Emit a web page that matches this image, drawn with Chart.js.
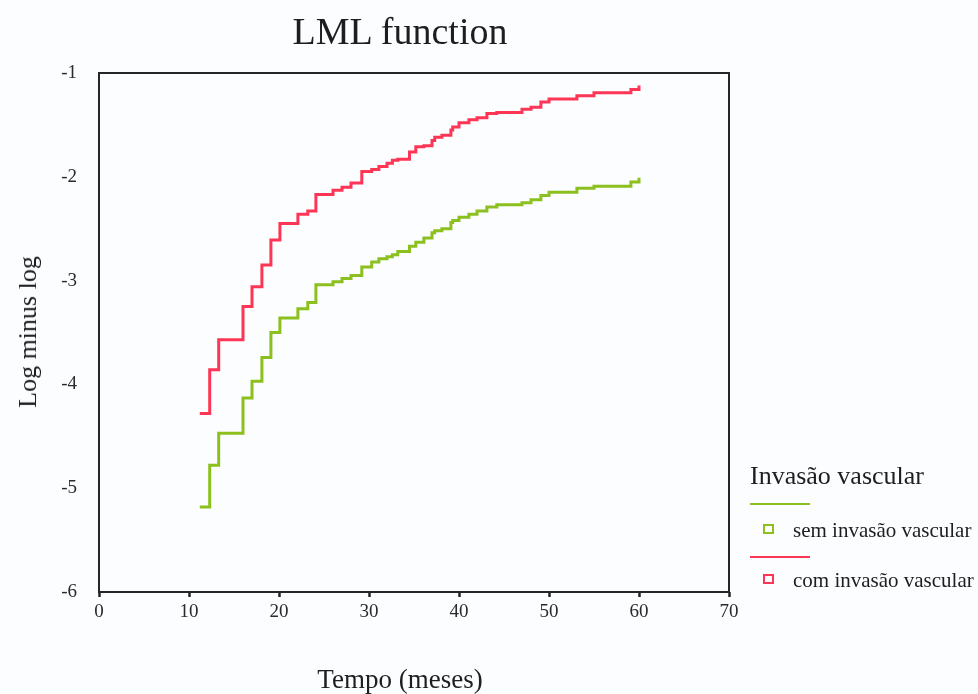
<!DOCTYPE html>
<html>
<head>
<meta charset="utf-8">
<script src="https://cdn.jsdelivr.net/npm/chart.js@4/dist/chart.umd.min.js"></script>
<style>
  html, body { margin: 0; padding: 0; background: #fbfdff; }
  #wrap { position: relative; width: 978px; height: 694px; font-family: 'Liberation Serif', 'Times New Roman', serif; color: #1e1e1e; }
  #grafico { position: absolute; left: 0; top: 0; }
  .txt { position: absolute; white-space: nowrap; line-height: 1; }
  #titulo { left: 400px; top: 31px; font-size: 38px; transform: translate(-50%, -50%); }
  #tituloX { left: 400px; top: 679px; font-size: 27px; transform: translate(-50%, -50%); }
  #tituloY { left: 28px; top: 332px; font-size: 26px; transform: translate(-50%, -50%) rotate(-90deg); }
  #legTitulo { left: 750px; top: 476px; font-size: 26px; transform: translateY(-50%); }
  .linha { position: absolute; left: 750px; width: 60px; height: 2px; }
  .quad { position: absolute; left: 763px; width: 7px; height: 6px; border: 2px solid; background: #fff; }
  .legTxt { left: 793px; font-size: 21px; transform: translateY(-50%); }
</style>
</head>
<body>
<div id="wrap">
  <canvas id="grafico" width="978" height="694"></canvas>
  <div class="txt" id="titulo">LML function</div>
  <div class="txt" id="tituloX">Tempo (meses)</div>
  <div class="txt" id="tituloY">Log minus log</div>
  <div class="txt" id="legTitulo">Invasão vascular</div>
  <div class="linha" style="top:503px; background:#8cc01e;"></div>
  <div class="quad" style="top:524px; border-color:#8cc01e;"></div>
  <div class="txt legTxt" style="top:530px;">sem invasão vascular</div>
  <div class="linha" style="top:556px; background:#ff3556;"></div>
  <div class="quad" style="top:574px; border-color:#ff3556;"></div>
  <div class="txt legTxt" style="top:580px;">com invasão vascular</div>
</div>
<script>
// tempos dos eventos (meses)
const tempos = [11.2, 12.3, 13.3, 16.0, 17.0, 18.1, 19.1, 20.1, 22.1, 23.2, 24.1, 26.0, 27.0, 28.0,
  29.2, 30.3, 31.1, 32.0, 32.6, 33.2, 34.5, 35.2, 36.1, 37.0, 37.3, 38.1, 39.1, 39.3, 40.0, 41.1,
  42.0, 43.1, 44.2, 47.0, 48.0, 49.1, 50.0, 53.1, 55.0, 59.1, 60.0];

const semInvasao = [-5.18, -4.78, -4.47, -4.13, -3.97, -3.74, -3.50, -3.36, -3.27, -3.21,
  -3.04, -3.01, -2.98, -2.95, -2.87, -2.82, -2.79, -2.77, -2.75, -2.72,
  -2.67, -2.63, -2.59, -2.54, -2.52, -2.50, -2.44, -2.42, -2.39, -2.36,
  -2.33, -2.29, -2.27, -2.25, -2.22, -2.18, -2.15, -2.11, -2.09, -2.05, -2.01];

const comInvasao = [-4.28, -3.86, -3.57, -3.25, -3.06, -2.85, -2.61, -2.45, -2.36, -2.33,
  -2.17, -2.13, -2.10, -2.06, -1.95, -1.93, -1.90, -1.87, -1.84, -1.83,
  -1.76, -1.71, -1.70, -1.65, -1.62, -1.60, -1.55, -1.52, -1.48, -1.45,
  -1.43, -1.39, -1.38, -1.35, -1.33, -1.28, -1.25, -1.22, -1.19, -1.16, -1.12];

const rotulosSeries = ['sem invasão vascular', 'com invasão vascular'];
const ticksX = [0, 10, 20, 30, 40, 50, 60, 70];
const ticksY = [-1, -2, -3, -4, -5, -6];

function pontos(valores) {
  let res = [];
  for (let i = 0; i < tempos.length; i++) {
    res.push({ x: tempos[i], y: valores[i] });
  }
  return res;
}

// moldura em volta da area do grafico
const moldura = {
  id: 'moldura',
  afterDraw(chart) {
    const a = chart.chartArea;
    const ctx = chart.ctx;
    ctx.save();
    ctx.strokeStyle = '#262626';
    ctx.lineWidth = 2;
    ctx.strokeRect(a.left, a.top, a.right - a.left, a.bottom - a.top);
    ctx.restore();
  }
};

const fonteTicks = { family: "'Liberation Serif', serif", size: 19 };

new Chart(document.getElementById('grafico').getContext('2d'), {
  type: 'line',
  data: {
    datasets: [{
      label: rotulosSeries[0],
      data: pontos(semInvasao),
      borderColor: '#8cc01e',
      borderWidth: 3,
      pointRadius: 0,
      stepped: true,
      fill: false
    }, {
      label: rotulosSeries[1],
      data: pontos(comInvasao),
      borderColor: '#ff3556',
      borderWidth: 3,
      pointRadius: 0,
      stepped: true,
      fill: false
    }]
  },
  options: {
    responsive: false,
    animation: false,
    layout: { padding: { top: 73, right: 249, left: 0, bottom: 0 } },
    plugins: {
      legend: { display: false },
      title: { display: false },
      tooltip: { enabled: false }
    },
    scales: {
      x: {
        type: 'linear',
        min: 0,
        max: 70,
        afterFit: (s) => { s.height = 102; },
        afterBuildTicks: (s) => { s.ticks = ticksX.map(v => ({ value: v })); },
        ticks: { font: fonteTicks, color: '#2a2a2a', padding: 4, maxRotation: 0 },
        grid: { drawOnChartArea: false, tickLength: 5, tickWidth: 2.5, tickColor: '#222' },
        border: { display: false }
      },
      y: {
        min: -6,
        max: -1,
        afterFit: (s) => { s.width = 99; },
        afterBuildTicks: (s) => { s.ticks = ticksY.map(v => ({ value: v })); },
        ticks: { font: fonteTicks, color: '#2a2a2a', padding: 14 },
        grid: { display: false },
        border: { display: false }
      }
    }
  },
  plugins: [moldura]
});
</script>
</body>
</html>
